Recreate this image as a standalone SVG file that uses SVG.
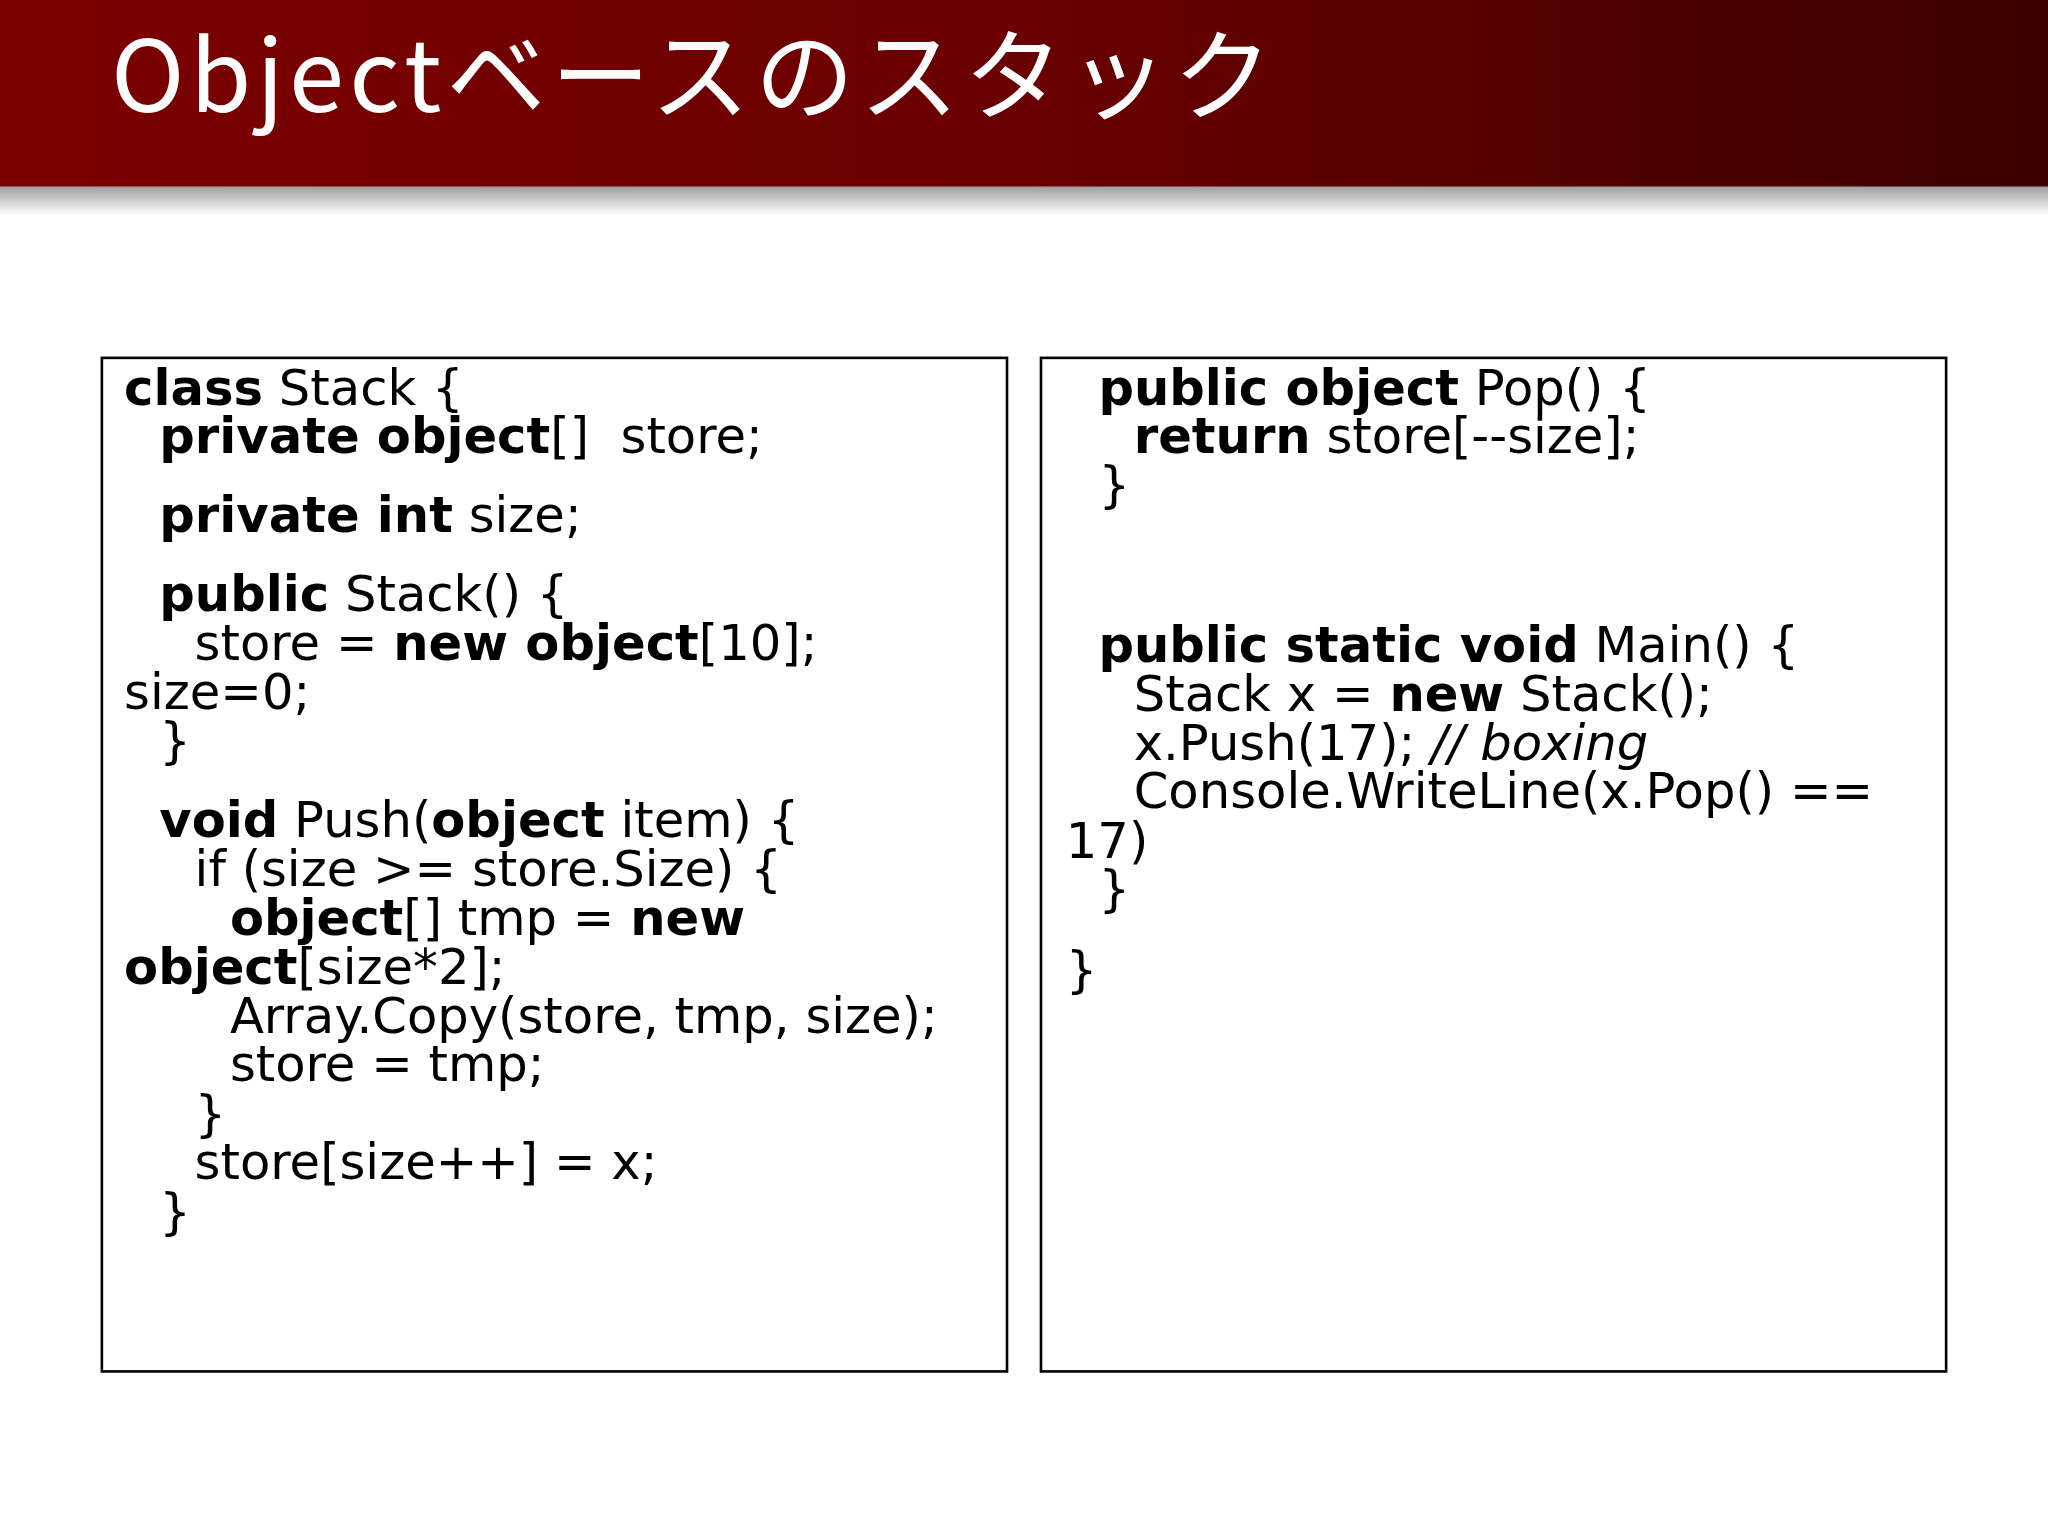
<svg xmlns="http://www.w3.org/2000/svg" width="2048" height="1536" viewBox="0 0 2048 1536">
<defs>
<linearGradient id="hg" x1="0" y1="0" x2="1" y2="0"><stop offset="0" stop-color="#7c0000"/><stop offset="0.5" stop-color="#6a0000"/><stop offset="1" stop-color="#3c0000"/></linearGradient>
<linearGradient id="sh" x1="0" y1="0" x2="0" y2="1"><stop offset="0" stop-color="#a0a0a0"/><stop offset="1" stop-color="#ffffff"/></linearGradient>
<style>
.c{font-family:"DejaVu Sans","Noto Sans",sans-serif;font-size:38px;fill:#000;white-space:pre}
.b{font-weight:bold}
.i{font-style:italic}
.box{fill:#fff;stroke:#000;stroke-width:2}
</style>
</defs>
<rect width="2048" height="1536" fill="#fff"/>
<g transform="scale(1.30612)">
<g id="header">
<rect x="0" y="0" width="1568" height="143" fill="url(#hg)"/>
<rect x="0" y="143" width="1568" height="22" fill="url(#sh)"/>
<text x="85" y="86" font-family="'Noto Sans CJK JP',sans-serif" font-size="76" letter-spacing="4" fill="#fff">Objectベースのスタック</text>
</g>
<g id="left">
<rect class="box" x="78" y="274" width="693" height="776"/>
<text class="c" x="95" y="310"><tspan class="b">class</tspan> Stack {</text>
<text class="c" x="122" y="347" xml:space="preserve"><tspan class="b">private object</tspan>[]  store;</text>
<text class="c" x="122" y="407"><tspan class="b">private int</tspan> size;</text>
<text class="c" x="122" y="468"><tspan class="b">public</tspan> Stack() {</text>
<text class="c" x="149" y="505">store = <tspan class="b">new object</tspan>[10];</text>
<text class="c" x="95" y="543">size=0;</text>
<text class="c" x="122" y="580">}</text>
<text class="c" x="122" y="641"><tspan class="b">void</tspan> Push(<tspan class="b">object</tspan> item) {</text>
<text class="c" x="149" y="678">if (size &gt;= store.Size) {</text>
<text class="c" x="176" y="716"><tspan class="b">object</tspan>[] tmp = <tspan class="b">new</tspan></text>
<text class="c" x="95" y="753"><tspan class="b">object</tspan>[size*2];</text>
<text class="c" x="176" y="791">Array.Copy(store, tmp, size);</text>
<text class="c" x="176" y="828">store = tmp;</text>
<text class="c" x="149" y="866">}</text>
<text class="c" x="149" y="903">store[size++] = x;</text>
<text class="c" x="122" y="941">}</text>
</g>
<g id="right">
<rect class="box" x="797" y="274" width="693" height="776"/>
<text class="c" x="841" y="310"><tspan class="b">public object</tspan> Pop() {</text>
<text class="c" x="868" y="347"><tspan class="b">return</tspan> store[--size];</text>
<text class="c" x="841" y="384">}</text>
<text class="c" x="841" y="507"><tspan class="b">public static void</tspan> Main() {</text>
<text class="c" x="868" y="544">Stack x = <tspan class="b">new</tspan> Stack();</text>
<text class="c" x="868" y="582">x.Push(17); <tspan class="i">// boxing</tspan></text>
<text class="c" x="868" y="619">Console.WriteLine(x.Pop() ==</text>
<text class="c" x="816" y="657">17)</text>
<text class="c" x="841" y="694">}</text>
<text class="c" x="816" y="756">}</text>
</g>
<g id="connectors"/>
</g>
</svg>
